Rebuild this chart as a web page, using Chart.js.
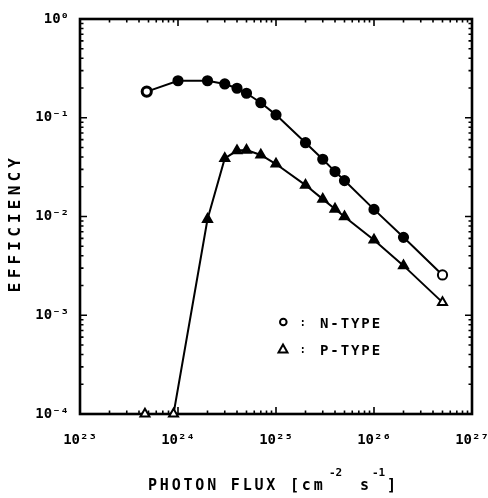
<!DOCTYPE html>
<html><head><meta charset="utf-8">
<script src="https://cdn.jsdelivr.net/npm/chart.js@4/dist/chart.umd.min.js"></script>
<style>html,body{margin:0;padding:0;background:#fff;}#wrap{width:488px;height:498px;position:relative;}</style>
</head><body><div id="wrap"><canvas id="c" width="488" height="498"></canvas></div>
<script>
// ---- data ----
const nFlux = [4.8e23, 1e24, 2e24, 3e24, 4e24, 5e24, 7e24, 1e25, 2e25, 3e25, 4e25, 5e25, 1e26, 2e26, 5e26];
const nEff  = [0.184, 0.237, 0.237, 0.22, 0.199, 0.177, 0.142, 0.107, 0.0559, 0.038, 0.0285, 0.0231, 0.0118, 0.00615, 0.00256];
const pFlux = [4.6e23, 9e23, 2e24, 3e24, 4e24, 5e24, 7e24, 1e25, 2e25, 3e25, 4e25, 5e25, 1e26, 2e26, 5e26];
const pEff  = [1e-4, 1e-4, 0.00937, 0.0388, 0.0465, 0.047, 0.042, 0.034, 0.0208, 0.015, 0.0119, 0.00995, 0.00578, 0.00318, 0.00135];
const seriesLabels = ['N-TYPE', 'P-TYPE'];
const xTickValues = [1e23, 1e24, 1e25, 1e26, 1e27];
const xTickLabels = ['10²³', '10²⁴', '10²⁵', '10²⁶', '10²⁷'];
const yTickValues = [1e-4, 1e-3, 1e-2, 1e-1, 1];
const yTickLabels = ['10⁻⁴', '10⁻³', '10⁻²', '10⁻¹', '10⁰'];
const xTitleParts = ['PHOTON FLUX [cm', '-2', 's', '-1', ']'];
const yTitle = 'EFFICIENCY';

function decadeTicks(values) {
  const out = [];
  for (let i = 0; i < values.length; i++) {
    out.push({ value: values[i], major: true });
    if (i < values.length - 1) {
      for (let k = 2; k <= 9; k++) out.push({ value: values[i] * k, major: false });
    }
  }
  return out;
}
function labelFor(values, labels, v) {
  const i = values.findIndex(t => Math.abs(t - v) / t < 1e-6);
  return i >= 0 ? labels[i] : '';
}

const FONT = '"DejaVu Sans Mono", "Liberation Mono", monospace';

const framePlugin = {
  id: 'framePlugin',
  beforeDatasetsDraw(chart) {
    const { ctx, chartArea: a, scales: { x, y } } = chart;
    ctx.save();
    ctx.strokeStyle = '#000';
    ctx.lineWidth = 1.6;
    ctx.beginPath();
    x.ticks.forEach(t => {
      const px = x.getPixelForValue(t.value);
      const L = t.major ? 7 : 3.5;
      ctx.moveTo(px, a.bottom); ctx.lineTo(px, a.bottom - L);
      ctx.moveTo(px, a.top); ctx.lineTo(px, a.top + L);
    });
    y.ticks.forEach(t => {
      const py = y.getPixelForValue(t.value);
      const L = t.major ? 7 : 3.5;
      ctx.moveTo(a.left, py); ctx.lineTo(a.left + L, py);
      ctx.moveTo(a.right, py); ctx.lineTo(a.right - L, py);
    });
    ctx.stroke();
    ctx.lineWidth = 2.6;
    ctx.strokeRect(a.left, a.top, a.right - a.left, a.bottom - a.top);
    ctx.restore();
  },
  afterDraw(chart) {
    const { ctx } = chart;
    ctx.save();
    ctx.fillStyle = '#000';
    ctx.strokeStyle = '#000';
    // x title
    ctx.textBaseline = 'alphabetic';
    ctx.textAlign = 'left';
    ctx.font = 'bold 15px ' + FONT;
    ctx.letterSpacing = '2.8px';
    const base = 490;
    ctx.fillText(xTitleParts[0], 148, base);
    ctx.font = 'bold 11px ' + FONT;
    ctx.letterSpacing = '0px';
    ctx.fillText(xTitleParts[1], 329, 476);
    ctx.font = 'bold 15px ' + FONT;
    ctx.fillText(xTitleParts[2], 360, base);
    ctx.font = 'bold 11px ' + FONT;
    ctx.fillText(xTitleParts[3], 372, 476);
    ctx.font = 'bold 15px ' + FONT;
    ctx.fillText(xTitleParts[4], 387, base);
    // y title
    ctx.save();
    ctx.translate(15.5, 225);
    ctx.rotate(-Math.PI / 2);
    ctx.textAlign = 'center';
    ctx.textBaseline = 'middle';
    ctx.font = 'bold 16px ' + FONT;
    ctx.letterSpacing = '4.2px';
    ctx.fillText(yTitle, 2, 0);
    ctx.restore();
    // legend
    ctx.letterSpacing = '1.9px';
    ctx.font = 'bold 14px ' + FONT;
    ctx.textBaseline = 'alphabetic';
    ctx.textAlign = 'left';
    ctx.lineWidth = 2;
    ctx.beginPath(); ctx.arc(283.3, 322, 3.3, 0, Math.PI * 2); ctx.stroke();
    ctx.fillText(seriesLabels[0], 320, 328);
    ctx.beginPath();
    ctx.moveTo(283, 344.5); ctx.lineTo(287.5, 352.5); ctx.lineTo(278.5, 352.5); ctx.closePath(); ctx.stroke();
    ctx.fillText(seriesLabels[1], 320, 354.5);
    ctx.letterSpacing = '0px';
    ctx.font = 'bold 10px ' + FONT;
    ctx.textAlign = 'center';
    ctx.fillText(':', 302.7, 326);
    ctx.fillText(':', 302.7, 352.5);
    ctx.restore();
  }
};

const nData = nFlux.map((v, i) => ({ x: v, y: nEff[i] }));
const pData = pFlux.map((v, i) => ({ x: v, y: pEff[i] }));

new Chart(document.getElementById('c'), {
  type: 'line',
  data: {
    datasets: [
      {
        label: seriesLabels[0], data: nData,
        borderColor: '#000', borderWidth: 2, tension: 0, clip: false,
        pointStyle: 'circle', pointRadius: 4.6,
        pointBorderColor: '#000',
        pointBorderWidth: c => (c.dataIndex === 0 ? 3 : 2),
        pointBackgroundColor: c => (c.dataIndex === 0 || c.dataIndex === nData.length - 1 ? '#fff' : '#000')
      },
      {
        label: seriesLabels[1], data: pData,
        borderColor: '#000', borderWidth: 2, tension: 0, clip: false,
        pointStyle: 'triangle', pointRadius: 5.2,
        pointBorderColor: '#000', pointBorderWidth: 2,
        pointBackgroundColor: c => (c.dataIndex <= 1 || c.dataIndex === pData.length - 1 ? '#fff' : '#000')
      }
    ]
  },
  options: {
    responsive: false,
    animation: false,
    events: [],
    layout: { padding: { top: 19, right: 0, left: 0, bottom: 0 } },
    plugins: { legend: { display: false }, tooltip: { enabled: false } },
    scales: {
      x: {
        type: 'logarithmic', min: 1e23, max: 1e27,
        afterBuildTicks: s => { s.ticks = decadeTicks(xTickValues); },
        afterFit: s => { s.height = 84; s.paddingLeft = 0; s.paddingRight = 16; },
        grid: { display: false, drawTicks: false },
        border: { display: false },
        ticks: {
          autoSkip: false, maxRotation: 0, minRotation: 0, padding: 18,
          color: '#000', font: { family: FONT, size: 14, weight: 'bold' },
          callback: v => labelFor(xTickValues, xTickLabels, v)
        }
      },
      y: {
        type: 'logarithmic', min: 1e-4, max: 1,
        afterBuildTicks: s => { s.ticks = decadeTicks(yTickValues); },
        afterFit: s => { s.width = 80; s.paddingTop = 0; s.paddingBottom = 0; },
        grid: { display: false, drawTicks: false },
        border: { display: false },
        ticks: {
          autoSkip: false, padding: 11,
          color: '#000', font: { family: FONT, size: 14, weight: 'bold' },
          callback: v => labelFor(yTickValues, yTickLabels, v)
        }
      }
    }
  },
  plugins: [framePlugin]
});
</script>
</body></html>
